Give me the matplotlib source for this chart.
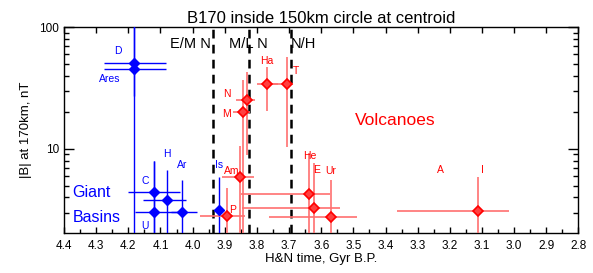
import numpy as np
import matplotlib.pyplot as plt

plt.rcParams['font.family'] = ['Liberation Sans', 'DejaVu Sans']

# Giant basins (blue)
basin_names = ['D', 'Ares', 'C', 'H', 'U', 'Ar', 'Is']
basin_age = np.array([4.182, 4.182, 4.119, 4.079, 4.119, 4.033, 3.918])
basin_age_old = np.array([4.28, 4.28, 4.198, 4.138, 4.198, 4.08, 3.918])
basin_age_young = np.array([4.088, 4.088, 4.037, 4.003, 4.06, 3.998, 3.918])
basin_b = np.array([50.4, 45.3, 4.42, 3.77, 3.06, 3.06, 3.14])
basin_b_lo = np.array([27.0, 1.5, 1.5, 1.5, 1.5, 1.5, 1.5])
basin_b_hi = np.array([110.0, 100.0, 8.0, 6.7, 8.0, 5.6, 5.9])

# Volcanoes (red)
volc_names = ['Ha', 'T', 'N', 'M', 'Am', 'P', 'He', 'E', 'Ur', 'I']
volc_age = np.array([3.770, 3.705, 3.832, 3.842, 3.853, 3.892, 3.639, 3.622, 3.570, 3.113])
volc_age_old = np.array([3.806, 3.723, 3.858, 3.863, 3.896, 3.948, 3.705, 3.702, 3.650, 3.210])
volc_age_young = np.array([3.739, 3.643, 3.799, 3.811, 3.798, 3.806, 3.429, 3.398, 3.377, 2.862])
volc_b = np.array([34.1, 34.1, 25.2, 19.9, 5.93, 2.79, 4.26, 3.27, 2.76, 3.11])
volc_b_lo = np.array([20.6, 10.4, 8.9, 1.5, 1.5, 1.5, 1.5, 1.5, 1.5, 1.5])
volc_b_hi = np.array([47.3, 57.2, 43.0, 37.0, 10.6, 4.77, 9.2, 7.6, 5.5, 5.9])

# boundaries between periods
bound_age = [3.937, 3.824, 3.695]
bound_names = ['E/M N', 'M/L N', 'N/H']

# where the name labels sit
basin_lbl_x = [4.234, 4.259, 4.148, 4.079, 4.148, 4.032, 3.918]
basin_lbl_y = [63.9, 37.3, 5.40, 9.10, 2.34, 7.39, 7.39]
volc_lbl_x = [3.770, 3.679, 3.894, 3.894, 3.878, 3.877, 3.635, 3.614, 3.570, 3.098]
volc_lbl_y = [52.9, 43.9, 28.2, 19.4, 6.64, 3.16, 8.77, 6.73, 6.64, 6.73]

blue = '#0000ff'
red = '#ff0000'
red_light = '#ff7070'

fig = plt.figure(figsize=(5.93, 2.73), dpi=100)
ax = fig.add_axes([0.108, 0.1476, 0.8675, 0.7534])

# error bars
ax.errorbar(basin_age, basin_b,
            xerr=[basin_age_old - basin_age, basin_age - basin_age_young],
            yerr=[basin_b - basin_b_lo, basin_b_hi - basin_b],
            fmt='D', color=blue, ecolor=blue, elinewidth=1.0, capsize=0,
            markersize=5, markeredgecolor=blue, zorder=3)
ax.errorbar(volc_age, volc_b,
            xerr=[volc_age_old - volc_age, volc_age - volc_age_young],
            yerr=[volc_b - volc_b_lo, volc_b_hi - volc_b],
            fmt='D', color=red, ecolor=red_light, elinewidth=1.2, capsize=0,
            markersize=5.5, markerfacecolor='#ff4040', markeredgecolor=red,
            markeredgewidth=1.2, zorder=3)

for i in range(len(basin_names)):
    ax.text(basin_lbl_x[i], basin_lbl_y[i], basin_names[i], color=blue,
            fontsize=7.5, ha='center', va='center')
for i in range(len(volc_names)):
    ax.text(volc_lbl_x[i], volc_lbl_y[i], volc_names[i], color=red,
            fontsize=7.5, ha='center', va='center')
ax.text(3.228, 6.73, 'A', color=red, fontsize=7.5, ha='center', va='center')

ax.text(4.373, 4.38, 'Giant', color=blue, fontsize=11.5, ha='left', va='center')
ax.text(4.373, 2.73, 'Basins', color=blue, fontsize=11.5, ha='left', va='center')
ax.text(3.370, 17.0, 'Volcanoes', color=red, fontsize=12.5, ha='center', va='center')

# dashed boundaries
for a in bound_age:
    ax.axvline(a, color='k', linestyle=(0, (3.5, 2.5)), linewidth=1.8, zorder=2)
ax.text(bound_age[0] + 0.005, 72, bound_names[0], fontsize=10.5, ha='right', va='center')
ax.text(bound_age[1] + 0.002, 72, bound_names[1], fontsize=10.5, ha='center', va='center')
ax.text(bound_age[2] + 0.0, 72, bound_names[2], fontsize=10.5, ha='left', va='center')

ax.set_yscale('log')
ax.set_xlim(4.4, 2.8)
ax.set_ylim(2.05, 100)
ax.set_xticks(np.arange(2.8, 4.41, 0.1))
ax.set_xticklabels(['%.1f' % v for v in np.arange(2.8, 4.41, 0.1)])
ax.set_xticks(np.arange(2.85, 4.4, 0.1), minor=True)
ax.set_yticks([10, 100])
ax.set_yticklabels(['10', '100'])
ax.tick_params(axis='both', which='both', direction='in', labelsize=8.5,
               top=True, right=True, width=1.0)
ax.tick_params(axis='x', which='major', length=4, pad=5)
ax.tick_params(axis='x', which='minor', length=3, top=False)
ax.tick_params(axis='y', which='major', length=7)
ax.tick_params(axis='y', which='minor', length=3.5, labelleft=False)
for s in ax.spines.values():
    s.set_linewidth(1.0)

ax.set_xlabel('H&N time, Gyr B.P.', fontsize=9.5, labelpad=1)
ax.set_ylabel('|B| at 170km, nT', fontsize=9.5, labelpad=5)
ax.set_title('B170 inside 150km circle at centroid', fontsize=12, pad=3)

plt.savefig('out.png', dpi=100)
